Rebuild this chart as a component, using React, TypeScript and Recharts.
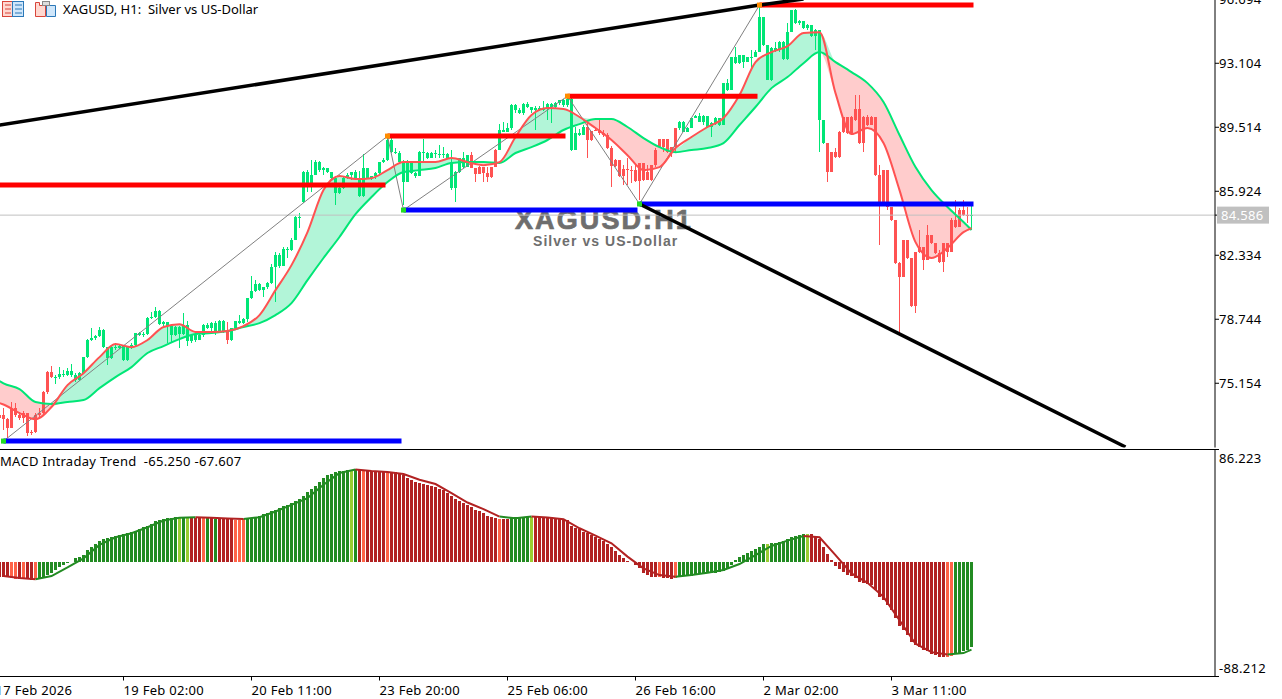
import { Area, Bar, Cell, ComposedChart, Line, ReferenceLine, XAxis, YAxis } from 'recharts';

// XAGUSD H1, one entry per bar starting at bar -1 (half cut by the left edge).
// Opens follow the previous close, except the gaps listed below.
const FIRST_BAR = -1;
const closes = [73.37,73.14,72.64,73.76,73.37,73.20,73.48,72.36,72.42,73.37,73.48,74.66,75.78,75.50,75.50,75.67,75.61,75.84,75.61,75.33,75.72,76.62,77.58,77.69,77.80,78.14,77.18,76.57,77.18,77.13,77.24,76.45,77.18,77.30,77.97,77.86,77.92,78.81,78.87,79.20,78.47,78.59,78.36,77.86,78.31,77.92,78.42,77.52,77.86,77.58,77.86,78.42,78.25,78.53,78.08,78.64,78.08,77.58,78.25,78.64,78.53,78.75,79.93,80.33,80.72,80.38,80.55,80.77,81.67,82.34,81.73,82.68,82.63,83.19,84.48,84.48,87.00,86.38,86.83,87.56,87.11,87.23,87.00,86.66,85.82,86.10,86.66,86.83,87.00,86.66,85.65,87.23,86.66,86.78,86.94,87.56,87.67,88.80,88.12,88.07,87.56,86.44,87.51,86.94,86.78,88.12,88.07,87.79,88.07,88.01,88.01,88.01,87.79,86.10,87.00,87.79,87.28,87.95,87.23,86.89,87.28,86.94,86.72,87.28,88.24,89.36,89.25,89.47,90.76,90.48,90.31,90.82,90.65,90.48,90.59,90.48,90.59,90.82,90.65,90.87,91.04,90.76,91.10,88.24,89.19,89.08,89.53,88.80,89.30,89.36,89.19,89.08,88.35,87.34,87.67,86.78,87.17,87.11,87.11,86.50,87.51,86.55,87.00,87.39,88.24,88.40,88.85,88.12,88.40,89.47,89.81,89.25,89.47,90.03,90.14,89.81,90.14,89.53,89.75,90.03,89.64,91.99,91.60,93.45,93.11,93.56,93.17,93.45,93.45,93.73,95.70,94.13,92.16,93.96,93.85,94.29,93.34,94.85,96.09,95.36,95.47,95.08,95.25,94.63,94.97,89.92,88.63,87.00,88.12,87.84,89.25,90.09,89.19,90.09,89.92,88.63,90.09,89.64,90.09,86.83,85.32,87.11,85.04,84.31,81.90,81.11,83.19,82.18,79.48,82.51,82.79,82.06,83.47,83.02,82.46,81.95,83.02,82.51,84.31,83.92,84.87,84.59,84.53,84.59];
const highs = [74.00,73.76,73.20,74.10,74.04,73.54,73.59,73.42,72.53,73.48,73.76,74.71,75.84,76.12,75.61,76.06,75.89,76.01,76.23,75.72,75.78,76.62,77.63,78.25,77.86,78.31,78.20,77.18,77.30,77.41,77.35,77.30,77.24,77.41,77.97,78.03,78.03,78.87,79.15,79.43,79.26,78.64,78.47,78.20,78.36,78.36,79.09,78.64,77.92,77.92,77.92,78.47,78.53,78.59,78.64,78.70,78.70,78.59,78.25,78.64,78.98,78.81,79.93,81.17,80.94,80.77,80.55,80.83,81.84,82.51,82.46,82.79,82.79,83.30,84.53,84.70,87.06,87.11,87.67,87.67,87.62,87.28,87.17,87.00,86.66,86.16,86.72,86.94,87.00,87.11,87.06,88.01,87.23,86.78,87.00,87.56,87.79,88.97,88.91,88.35,88.18,87.67,87.67,87.51,87.00,88.18,88.85,88.12,88.12,88.24,88.52,88.40,88.07,88.24,87.06,87.79,88.12,87.95,88.12,87.23,87.34,87.28,87.28,87.28,88.29,89.69,89.81,89.75,90.82,90.82,90.59,90.87,90.93,90.65,90.70,90.70,90.98,90.87,90.87,90.93,91.04,91.10,91.26,91.15,89.53,89.42,89.64,89.92,89.30,89.47,89.98,89.36,89.19,88.46,87.73,87.56,87.39,87.79,87.34,87.39,87.51,87.51,87.39,87.39,88.35,88.85,88.85,88.46,88.40,89.47,89.87,89.87,89.53,90.03,90.20,90.31,90.20,89.81,89.81,90.09,89.92,91.99,92.22,93.45,94.01,93.56,93.56,93.45,93.85,93.85,96.31,95.70,94.07,94.01,94.29,94.35,94.35,95.36,96.09,96.15,95.53,95.42,95.30,95.19,95.02,94.97,89.92,88.63,88.12,88.35,89.30,90.09,90.03,90.14,91.32,91.32,90.14,90.20,90.14,89.58,87.39,87.11,87.11,85.04,84.31,81.95,83.19,83.19,82.18,82.51,83.75,82.63,84.03,83.47,83.02,82.63,83.02,82.90,84.42,85.43,84.98,85.43,85.04,85.09];
const lows = [72.80,72.53,72.08,72.64,73.26,73.09,72.92,72.19,72.25,72.36,73.26,73.37,74.55,75.44,75.11,75.39,75.50,75.56,75.50,75.22,75.28,75.67,76.57,77.52,77.58,77.74,77.13,76.17,76.51,77.02,77.07,76.40,76.40,77.07,77.24,77.80,77.74,77.86,78.75,78.81,78.42,78.36,77.41,77.47,77.80,77.13,77.86,77.24,77.41,77.47,77.63,77.74,78.19,78.08,77.86,77.97,77.97,77.35,77.52,78.19,78.47,78.47,78.59,79.88,80.27,80.33,79.99,80.44,80.72,79.71,81.62,81.78,82.18,82.57,83.19,83.86,85.26,85.88,85.88,86.83,87.00,86.83,86.94,86.61,85.15,85.77,86.05,86.61,86.55,86.55,85.60,85.60,86.61,86.55,86.61,86.83,87.51,87.62,88.07,88.01,87.51,85.15,86.44,86.89,86.66,86.78,87.51,87.73,87.79,87.79,87.79,87.79,87.79,85.99,85.32,86.94,87.23,87.56,87.23,86.44,86.89,86.44,86.44,86.66,87.28,88.24,89.25,89.25,89.36,90.31,90.25,90.20,90.59,90.31,89.36,90.42,90.42,89.92,89.75,90.59,90.76,90.65,90.65,88.18,88.24,89.02,89.19,87.79,88.74,89.30,89.08,88.97,88.29,86.16,87.28,86.72,86.27,86.27,86.38,86.44,85.43,86.50,86.94,86.50,87.28,88.35,88.12,88.07,87.84,88.12,89.36,89.25,89.25,89.47,90.03,89.81,89.64,89.47,88.97,89.64,89.58,89.64,91.54,91.60,93.06,93.06,92.83,93.17,92.72,93.51,93.73,94.07,92.16,92.11,93.73,93.73,93.28,93.28,94.85,95.30,95.25,95.02,94.97,94.57,93.85,88.12,88.57,86.44,87.00,87.79,87.79,89.19,89.14,89.14,89.87,88.57,88.12,89.58,89.64,86.78,82.90,85.32,84.87,84.25,81.84,77.97,81.11,82.12,79.43,79.09,82.46,81.50,82.40,82.96,82.40,81.90,81.39,82.23,82.79,83.86,84.25,84.53,84.14,83.75];
const gapOpens: Record<number, number> = { [-1]: 73.20, 0: 73.37, 75: 85.32, 112: 87.56, 162: 86.55, 164: 88.85, 213: 90.54, 214: 90.54 };
// bars the trend filter paints green, the others are red
const bullRuns = [[13, 55], [57, 116], [124, 145], [169, 205], [242, 242]];

// moving averages, read every 4th bar, plus the two ends
const MA_BARS = [-1,0,4,8,12,16,20,24,28,32,36,40,44,48,52,56,60,64,68,72,76,80,84,88,92,96,100,104,108,112,116,120,124,128,132,136,140,144,148,152,156,160,164,168,172,176,180,184,188,192,196,200,204,208,212,216,220,224,228,232,236,240,242];
const slowMA = [75.28,75.15,74.83,74.10,73.99,74.10,74.21,74.88,75.50,76.06,76.85,77.24,77.63,77.92,77.97,78.08,78.31,78.53,78.98,79.65,80.94,82.18,83.36,84.64,85.60,86.44,87.00,87.11,87.23,87.51,87.56,87.56,87.51,88.07,88.40,88.80,89.36,89.69,89.98,89.98,89.53,88.91,88.40,88.12,88.24,88.35,88.63,89.64,90.65,91.71,92.33,93.11,93.73,93.17,92.61,91.99,90.93,89.08,87.28,85.99,85.04,84.20,83.75];
const fastMA = [74.04,73.96,73.48,73.14,73.82,75.05,75.72,76.62,77.35,77.18,77.58,78.31,78.47,78.03,78.03,78.08,78.36,78.98,80.38,81.78,83.63,85.99,86.78,86.61,86.66,87.11,87.56,87.56,87.56,87.79,87.56,87.39,87.56,88.97,90.20,90.59,90.54,90.09,89.47,88.80,87.95,87.11,87.28,88.35,88.97,89.53,90.03,91.32,93.17,93.73,94.07,94.80,94.85,91.43,89.13,89.47,88.63,85.99,83.07,82.18,82.74,83.63,83.86];

// pivots of the zigzag, low and high in turn
const zigzagBars = [0, 96, 100, 141, 159, 189];
const zigzagPrices = [71.91, 89.02, 84.87, 91.26, 85.21, 96.37];
const resistanceLevels = [[-5, 95.5, 86.27], [96, 140.5, 89.02], [141, 188.5, 91.26], [189, 242.5, 96.37]];
const supportLevels = [[0, 99.5, 71.91], [100, 158.5, 84.87], [159, 242.5, 85.21]];
const upperTrend = [{ i: -1, p: 89.64 }, { i: 189, p: 96.37 }, { i: 200, p: 96.71 }];
const lowerTrend = [{ i: 159, p: 85.21 }, { i: 280.5, p: 71.58 }];

const LAST_PRICE = 84.586;
const priceTicks = [75.154, 78.744, 82.334, 85.924, 89.514, 93.104, 96.694, LAST_PRICE];
const timeTickBars = [-2, 30, 62, 94, 126, 158, 190, 222];
const timeTickLabels = ['17 Feb 2026', '19 Feb 02:00', '20 Feb 11:00', '23 Feb 20:00', '25 Feb 06:00', '26 Feb 16:00', '2 Mar 02:00', '3 Mar 11:00'];

// MACD Intraday Trend, same bars as the candles
const macdHist = [-12,-12,-12,-12.5,-13,-13,-13,-13,-14,-13,-13,-11.5,-10.3,-8.5,-6.4,-4.4,-2.8,-1.3,-0.3,2.5,3.9,5,9,11.6,13.6,16.2,17.5,18.5,19.3,20,20.6,21.4,21.9,22.6,23.9,25,26.5,27.5,29,30.9,32.2,32.9,33.4,33.7,34,33.4,34.7,33.4,34.2,33.4,33.7,33.4,33.7,34,33.2,33.4,32.9,32.7,32.7,32.4,32.4,32.7,33.4,33.4,34,35.3,36.8,37.3,38.6,39.9,41.2,42.5,43.7,45,46.3,48.1,50.7,53.3,55.8,58.4,61.2,64.3,66.6,67.7,68.7,69.5,70,70.2,70.8,71.3,70.2,70,69.5,69.5,69.2,69,69,68.7,68.7,68.7,68.2,66.9,64.3,62.5,61.2,60.5,59.7,59.2,57.9,57.1,56.1,54.8,52.7,50.2,48.1,46.3,45,43.7,41.9,39.9,38.6,37.3,35.5,34.2,33.4,32.9,32.9,32.9,33.4,34,34,34,34,34.7,34.7,34.7,34.2,34,33.4,33.4,32.9,32.7,32.2,27.5,26.2,25,23.2,21.9,20.6,18.8,17.2,16.2,13.6,11.6,8.5,5.1,3.1,0.8,-0.3,-2.6,-5.1,-8.5,-10.3,-11.6,-11.6,-11.6,-12.4,-12.6,-13.1,-12.4,-11.6,-11,-11,-11,-10.3,-9.8,-9.5,-9,-9,-8.5,-8,-6.9,-5.7,-2.6,1.3,3.3,5.1,6.4,8.5,9.8,11.6,13.4,13.6,14.2,14.7,15.4,16.2,17.2,18.8,19.8,20.3,21.1,21.4,21.4,19.8,17.2,11.6,5.9,1.3,-3.3,-5.9,-7.7,-10.3,-11,-12.9,-15.4,-16.7,-17.5,-18,-21.9,-27,-29.1,-33.4,-37.3,-43.2,-49.4,-52.7,-56.1,-61.8,-64.3,-65.6,-68.2,-69,-70.8,-71.5,-73.3,-73.3,-73.3,-72.8,-71.3,-70.2,-69,-67.7,-65.25];
const SIGNAL_BARS = MA_BARS.slice(1);
const macdSignal = [-11,-12.6,-13.4,-11,-4.4,2.6,12.9,18.8,21.9,26.5,31.6,33.7,34.2,33.7,33.2,32.9,34.2,38.6,43.7,48.9,59.2,68.2,70.8,69.7,69,67.4,63,59.7,52.7,45.5,40.4,34.7,33.4,34.7,34,32.7,25.7,20,14.2,3.9,-5.1,-10.3,-11.6,-10.3,-8.5,-6.4,-1.8,5.1,12.1,16.2,19.8,18.8,5.1,-9,-16.2,-27,-45,-63,-69.5,-71.3,-70.2,-67.607];
const strongUpRuns = [[9, 43], [45, 45], [51, 51], [53, 53], [61, 86], [88, 88], [127, 131], [169, 190], [192, 200], [238, 242]];
const weakUpBars = [44, 46, 87, 132, 191, 201];
const weakDownBars = [2, 3, 5, 8, 50, 58, 59, 60, 90, 96, 124, 164, 168, 236, 237];
const signalUpRuns = [[8, 48], [60, 88], [124, 132], [168, 200], [236, 242]];
const signalDownRuns = [[0, 8], [48, 60], [88, 124], [132, 168], [200, 236]];
const macdTicks = [-88.212, 86.223];

const CHART_WIDTH = 1298;
const AXIS_WIDTH = 67;
const xDomain = [-4.875, 302.875];
const uiFont = '"Noto Sans", sans-serif';
const labelFont = '"Liberation Sans", sans-serif';
const GREEN = '#00E676';
const RED = '#FF5252';

const inRuns = (i: number, runs: number[][]) => runs.some(([a, b]) => i >= a && i <= b);

const candles = closes.map((close, k) => {
  const i = k + FIRST_BAR;
  const open = gapOpens[i] ?? closes[k - 1];
  return { i, open, close, high: highs[k], low: lows[k], range: [lows[k], highs[k]], bull: inRuns(i, bullRuns) };
});

const maPoints = MA_BARS.map((i, k) => {
  const slow = slowMA[k];
  const fast = fastMA[k];
  return {
    i,
    slow,
    fast,
    upBand: [slow, Math.max(fast, slow)],
    downBand: [Math.min(fast, slow), slow],
  };
});

const zigzag = zigzagBars.map((i, k) => ({ i, p: zigzagPrices[k] }));
const signalPoints = SIGNAL_BARS.map((i, k) => ({ i, signal: macdSignal[k] }));
const macdData = macdHist.map((hist, k) => ({ i: k + FIRST_BAR, hist }));

const levelPoints = ([from, to, p]: number[]) => [{ i: from, p }, { i: to, p }];

function macdColor(i: number) {
  if (weakUpBars.includes(i)) return '#9ACD32';
  if (weakDownBars.includes(i)) return '#FF6347';
  return inRuns(i, strongUpRuns) ? '#228B22' : '#B22222';
}

function Candle(props: any) {
  const { x, y, width, height, payload } = props;
  const { open, close, high, low, bull } = payload;
  const perPrice = height / (high - low);
  const top = y + (high - Math.max(open, close)) * perPrice;
  const bottom = y + (high - Math.min(open, close)) * perPrice;
  const color = bull ? GREEN : RED;
  const wickX = Math.floor(x + width / 2);
  return (
    <g shapeRendering="crispEdges">
      <rect x={wickX} y={y} width={1} height={height} fill={color} />
      <rect x={wickX - 1} y={top} width={3} height={Math.max(bottom - top, 1)} fill={color} />
    </g>
  );
}

function PivotDot(props: any) {
  const { cx, cy, index } = props;
  if (cx == null || cy == null) return <g key={index} />;
  return <rect key={index} x={cx - 2.5} y={cy - 2.5} width={5} height={5} fill={index % 2 === 0 ? '#22DD22' : '#FF8C00'} />;
}

const axisText = { fontFamily: uiFont, fontSize: 13, letterSpacing: 0.3 };

function PriceTick(props: any) {
  const { x, y, payload } = props;
  if (payload.value === LAST_PRICE) {
    return (
      <g>
        <rect x={x - 2} y={y - 8.5} width={52} height={17} fill="#C0C0C0" />
        <text x={x + 2} y={y + 4.5} {...axisText} fill="#fff">{LAST_PRICE.toFixed(3)}</text>
      </g>
    );
  }
  return <text x={x} y={y + 4.5} {...axisText} fill="#000">{payload.value.toFixed(3)}</text>;
}

function MacdTick(props: any) {
  const { x, y, payload } = props;
  const shift = payload.value > 0 ? 13 : -4;
  return <text x={x} y={y + shift} {...axisText} fill="#000">{payload.value.toFixed(3)}</text>;
}

function TimeTick(props: any) {
  const { x, y, payload } = props;
  const label = timeTickLabels[timeTickBars.indexOf(payload.value)];
  return <text x={x} y={y + 14} {...axisText} fill="#000" style={{ whiteSpace: 'pre' }}>{label}</text>;
}

function ToolbarIcons() {
  return (
    <svg width={60} height={20} style={{ position: 'absolute', left: 0, top: 0 }}>
      <rect x={2.5} y={1.5} width={10} height={15} fill="#FFD8D0" stroke="#D8453A" />
      <rect x={12.5} y={1.5} width={11} height={15} fill="#CFE6FA" stroke="#2B78B8" />
      <path d="M5 5h6M5 9h6M5 13h6" stroke="#D8453A" />
      <path d="M15 5h7M15 9h7M15 13h7" stroke="#2B78B8" />
      <path d="M35.5 2.5h4v3h6v11h-10z" fill="#FFD8D0" stroke="#D8453A" />
      <path d="M46.5 5.5h9v11h-9z" fill="#CFE6FA" stroke="#2B78B8" />
      <rect x={42.5} y={1.5} width={7} height={4} fill="#DDD" stroke="#888" />
    </svg>
  );
}

export default function App() {
  return (
    <div style={{ position: 'absolute', left: 0, top: 0, width: 1282, height: 699, overflow: 'hidden', background: '#fff' }}>
      <div style={{ position: 'absolute', left: 515, top: 205, fontFamily: labelFont, fontWeight: 700, fontSize: 27, letterSpacing: 2.1, color: '#6E6E6E', WebkitTextStroke: '0.7px #6E6E6E', whiteSpace: 'pre' }}>XAGUSD:H1</div>
      <div style={{ position: 'absolute', left: 533, top: 233, fontFamily: labelFont, fontWeight: 700, fontSize: 14, letterSpacing: 1.05, color: '#6E6E6E', whiteSpace: 'pre' }}>Silver vs US-Dollar</div>

      <div style={{ position: 'absolute', left: -16, top: -1 }}>
        <ComposedChart width={CHART_WIDTH} height={450} data={candles} margin={{ top: 0, right: 0, bottom: 1.5, left: 0 }}>
          <XAxis xAxisId={0} dataKey="i" type="number" domain={xDomain} allowDataOverflow height={0} tick={false} tickLine={false} axisLine={{ stroke: '#000' }} />
          <YAxis yAxisId={0} orientation="right" width={AXIS_WIDTH} domain={[71.55, 96.71]} allowDataOverflow ticks={priceTicks} interval={0} tickSize={4} tickMargin={0} tick={<PriceTick />} axisLine={{ stroke: '#000' }} tickLine={{ stroke: '#000' }} />
          <ReferenceLine y={LAST_PRICE} stroke="#C0C0C0" />
          <Area data={maPoints} type="monotone" dataKey="upBand" stroke="none" fill="#B2F5D8" fillOpacity={1} isAnimationActive={false} dot={false} activeDot={false} />
          <Area data={maPoints} type="monotone" dataKey="downBand" stroke="none" fill="#FFCCCC" fillOpacity={1} isAnimationActive={false} dot={false} activeDot={false} />
          <Bar dataKey="range" barSize={3} shape={<Candle />} isAnimationActive={false} />
          <Line data={zigzag} dataKey="p" stroke="#808080" strokeWidth={1} dot={false} isAnimationActive={false} />
          <Line data={maPoints} type="monotone" dataKey="slow" stroke={GREEN} strokeWidth={2} dot={false} isAnimationActive={false} />
          <Line data={maPoints} type="monotone" dataKey="fast" stroke={RED} strokeWidth={2} dot={false} isAnimationActive={false} />
          {resistanceLevels.map((level) => (
            <Line key={`r${level[0]}`} data={levelPoints(level)} dataKey="p" stroke="#FF0000" strokeWidth={5} dot={false} isAnimationActive={false} />
          ))}
          {supportLevels.map((level) => (
            <Line key={`s${level[0]}`} data={levelPoints(level)} dataKey="p" stroke="#0000FF" strokeWidth={5} dot={false} isAnimationActive={false} />
          ))}
          <Line data={zigzag} dataKey="p" stroke="none" dot={<PivotDot />} isAnimationActive={false} />
          <Line data={upperTrend} dataKey="p" stroke="#000" strokeWidth={3.5} dot={false} isAnimationActive={false} />
          <Line data={lowerTrend} dataKey="p" stroke="#000" strokeWidth={3.5} dot={false} isAnimationActive={false} />
        </ComposedChart>
      </div>

      <div style={{ position: 'absolute', left: -16, top: 444 }}>
        <ComposedChart width={CHART_WIDTH} height={255} data={macdData} margin={{ top: 5.5, right: 0, bottom: 0, left: 0 }}>
          <XAxis xAxisId={0} dataKey="i" type="number" domain={xDomain} allowDataOverflow height={22.5} ticks={timeTickBars} interval={0} tickSize={4} tickMargin={0} tick={<TimeTick />} axisLine={{ stroke: '#000' }} tickLine={{ stroke: '#000' }} />
          <YAxis yAxisId={0} orientation="right" width={AXIS_WIDTH} domain={[-88.212, 86.223]} allowDataOverflow ticks={macdTicks} interval={0} tickSize={4} tickMargin={0} tick={<MacdTick />} axisLine={{ stroke: '#000' }} tickLine={{ stroke: '#000' }} />
          <ReferenceLine y={86.223} stroke="#000" />
          <Bar dataKey="hist" barSize={3} isAnimationActive={false} shapeRendering="crispEdges">
            {macdData.map((d) => (
              <Cell key={d.i} fill={macdColor(d.i)} />
            ))}
          </Bar>
          {signalUpRuns.map(([a, b]) => (
            <Line key={`u${a}`} data={signalPoints.filter((d) => d.i >= a && d.i <= b)} dataKey="signal" stroke="#228B22" strokeWidth={2} dot={false} isAnimationActive={false} />
          ))}
          {signalDownRuns.map(([a, b]) => (
            <Line key={`d${a}`} data={signalPoints.filter((d) => d.i >= a && d.i <= b)} dataKey="signal" stroke="#B22222" strokeWidth={2} dot={false} isAnimationActive={false} />
          ))}
        </ComposedChart>
      </div>

      <ToolbarIcons />
      <div style={{ position: 'absolute', left: 63, top: 0, fontFamily: uiFont, fontSize: 13, color: '#000', whiteSpace: 'pre' }}>XAGUSD, H1:  Silver vs US-Dollar</div>
      <div style={{ position: 'absolute', left: 0, top: 452, fontFamily: uiFont, fontSize: 13, letterSpacing: 0.3, color: '#000', whiteSpace: 'pre' }}>MACD Intraday Trend  -65.250 -67.607</div>
    </div>
  );
}
